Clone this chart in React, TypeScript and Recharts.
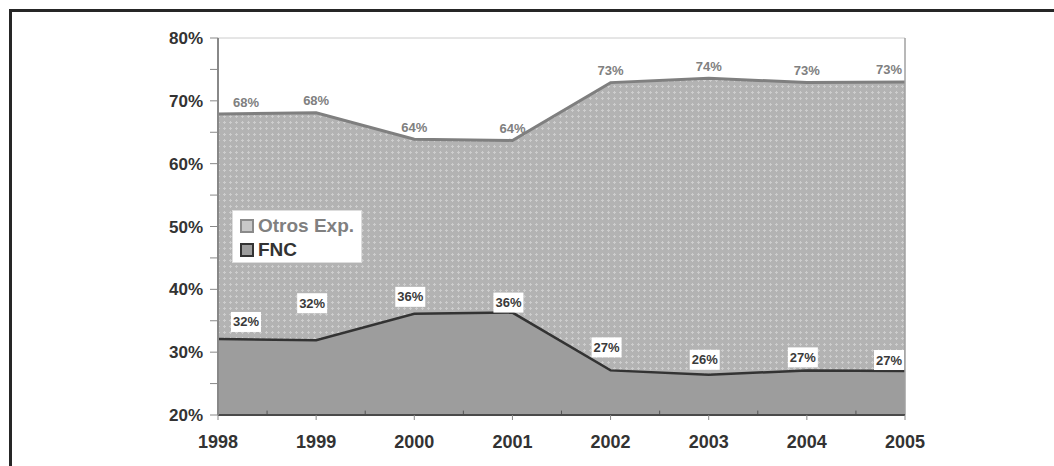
import React from 'react';
import { AreaChart, Area, XAxis, YAxis, CartesianGrid, ReferenceLine, Legend } from 'recharts';

const years = [1998, 1999, 2000, 2001, 2002, 2003, 2004, 2005];
const otrosExp = [67.9, 68.1, 63.9, 63.7, 72.9, 73.6, 72.9, 73.0];
const fnc = [32.1, 31.9, 36.1, 36.3, 27.1, 26.4, 27.1, 27.0];
const yTicks = [20, 25, 30, 35, 40, 45, 50, 55, 60, 65, 70, 75, 80];
const minorX = [1998.5, 1999.5, 2000.5, 2001.5, 2002.5, 2003.5, 2004.5];
const seriesNames = { otros: 'Otros Exp.', fnc: 'FNC' };
// how far above each FNC point its label box sits (px)
const fncLift = [17, 37, 17, 10, 23, 15, 13, 11];

const data = years.map((y, i) => ({ year: y, otros: otrosExp[i], fnc: fnc[i] }));

const W = 1054;
const H = 466;
const PLOT_L = 218;
const PLOT_R = 905;
const FONT = '"Liberation Sans", Arial, sans-serif';

const clampX = (x: number) => Math.min(Math.max(x, PLOT_L + 28), PLOT_R - 16);

const OtrosLabel = (props: any) => {
  const { x, y, value } = props;
  if (x == null || y == null) return null;
  const cx = clampX(x);
  return (
    <text x={cx} y={y - 12} textAnchor="middle" dominantBaseline="central" fontSize={13} fontWeight="bold" fill="#808080" fontFamily={FONT}>
      {Math.round(value)}%
    </text>
  );
};

const FncLabel = (props: any) => {
  const { x, y, value, index } = props;
  if (x == null || y == null) return null;
  const cx = clampX(x - 4);
  const cy = y - (fncLift[index] ?? 14);
  return (
    <g>
      <rect x={cx - 15} y={cy - 10} width={30} height={20} fill="#ffffff" />
      <text x={cx} y={cy} textAnchor="middle" dominantBaseline="central" fontSize={13} fontWeight="bold" fill="#3a3a3a" fontFamily={FONT}>
        {Math.round(value)}%
      </text>
    </g>
  );
};

const LegendBox = () => (
  <div style={{ width: 130, height: 53, background: '#fff', border: '1px solid #dddddd', boxSizing: 'border-box', fontFamily: FONT, fontWeight: 'bold', fontSize: 19, padding: '3px 0 0 7px' }}>
    <div style={{ display: 'flex', alignItems: 'center', height: 24, color: '#808080' }}>
      <span style={{ display: 'inline-block', width: 10, height: 10, background: '#c8c8c8', border: '2px solid #8a8a8a', marginRight: 4 }} />
      {seriesNames.otros}
    </div>
    <div style={{ display: 'flex', alignItems: 'center', height: 24, color: '#333' }}>
      <span style={{ display: 'inline-block', width: 10, height: 10, background: '#9d9d9d', border: '2px solid #333', marginRight: 4 }} />
      {seriesNames.fnc}
    </div>
  </div>
);

export default function App() {
  return (
    <div style={{ position: 'fixed', left: 0, top: 0, width: W, height: H, overflow: 'hidden', background: '#fff' }}>
      <div style={{ position: 'absolute', left: 9, top: 9, width: W - 9, height: H - 9, borderTop: '3px solid #262626', borderLeft: '3px solid #262626', boxSizing: 'border-box' }} />
      <div style={{ position: 'absolute', left: 0, top: 0 }}>
        <AreaChart width={W} height={H} data={data} margin={{ top: 38, right: W - PLOT_R, bottom: 6, left: 0 }}>
          <defs>
            <pattern id="dots" width="6" height="6" patternUnits="userSpaceOnUse">
              <rect width="6" height="6" fill="#b3b3b3" />
              <rect x="2" y="1" width="1" height="3" fill="#cdcdcd" />
              <rect x="1" y="2" width="3" height="1" fill="#cdcdcd" />
            </pattern>
          </defs>
          <Area type="linear" dataKey="otros" name={seriesNames.otros} stroke="#7f7f7f" strokeWidth={3} fill="url(#dots)" fillOpacity={1} baseValue={20} isAnimationActive={false} label={OtrosLabel} />
          <Area type="linear" dataKey="fnc" name={seriesNames.fnc} stroke="#333333" strokeWidth={2.5} fill="#9d9d9d" fillOpacity={1} baseValue={20} isAnimationActive={false} label={FncLabel} />
          <CartesianGrid horizontal={false} vertical stroke="#ffffff" strokeOpacity={0.3} />
          <ReferenceLine y={80} stroke="#cccccc" strokeWidth={1} />
          <ReferenceLine x={2005} stroke="#a0a0a0" strokeWidth={1.5} />
          {minorX.map((m) => (
            <ReferenceLine key={m} segment={[{ x: m, y: 20 }, { x: m, y: 20.7 }]} stroke="#555" strokeWidth={1} />
          ))}
          <XAxis
            dataKey="year"
            type="number"
            domain={[1998, 2005]}
            ticks={years}
            allowDecimals={false}
            height={45}
            tickSize={5}
            tickMargin={15}
            axisLine={{ stroke: '#4a4a4a', strokeWidth: 2 }}
            tickLine={{ stroke: '#888' }}
            tick={{ fill: '#333', fontSize: 18, fontWeight: 'bold', fontFamily: FONT }}
          />
          <YAxis
            type="number"
            domain={[20, 80]}
            ticks={yTicks}
            width={PLOT_L}
            tickSize={8}
            tickMargin={7}
            interval={0}
            tickFormatter={(v: number) => (v % 10 === 0 ? `${v}%` : '')}
            axisLine={{ stroke: '#888', strokeWidth: 2 }}
            tickLine={{ stroke: '#888' }}
            tick={{ fill: '#333', fontSize: 17, fontWeight: 'bold', fontFamily: FONT }}
          />
          <Legend
            layout="vertical"
            align="center"
            verticalAlign="middle"
            content={LegendBox}
            wrapperStyle={{ position: 'absolute', left: 232, top: 210, width: 130, height: 53 }}
          />
        </AreaChart>
      </div>
    </div>
  );
}
